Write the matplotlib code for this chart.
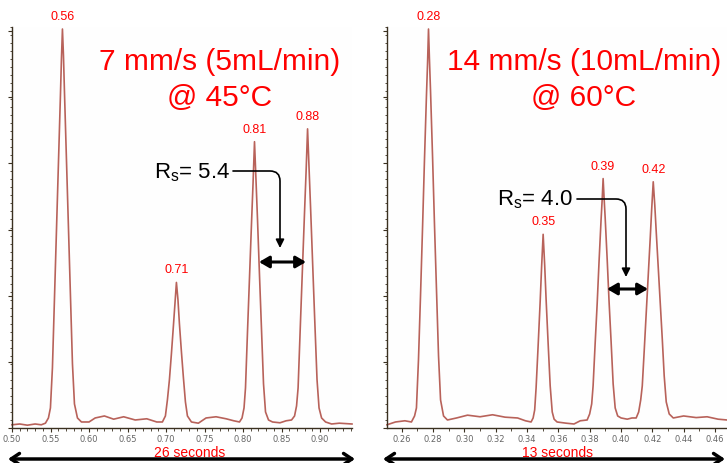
import matplotlib
matplotlib.use("Agg")
import matplotlib.pyplot as plt
from matplotlib.ticker import MultipleLocator, FormatStrFormatter, NullFormatter
from matplotlib.patches import FancyArrowPatch

plt.rcParams['font.family'] = ['Liberation Sans', 'DejaVu Sans']

# ---- data ----
left_t = [0.500, 0.510, 0.520, 0.530, 0.538,
          0.5434, 0.5473, 0.5499, 0.5525, 0.5551, 0.5577, 0.5603, 0.5629, 0.5642, 0.5655,
          0.5668, 0.5681, 0.5707, 0.5733, 0.5759, 0.5785, 0.5811, 0.5850, 0.5902,
          0.600, 0.608, 0.620, 0.632, 0.645, 0.660, 0.675, 0.688,
          0.6953, 0.6992, 0.7018, 0.7044, 0.7070, 0.7096, 0.7116, 0.7135,
          0.7155, 0.7174, 0.7200, 0.7226, 0.7252, 0.7278, 0.7330,
          0.742, 0.752, 0.765, 0.778, 0.788,
          0.7954, 0.7987, 0.8013, 0.8032, 0.8058, 0.8084, 0.8110, 0.8130, 0.8149,
          0.8168, 0.8188, 0.8214, 0.8240, 0.8266, 0.8292, 0.8331, 0.8383,
          0.848, 0.856,
          0.8630, 0.8669, 0.8695, 0.8715, 0.8747, 0.8773, 0.8799, 0.8819, 0.8838,
          0.8857, 0.8877, 0.8903, 0.8929, 0.8961, 0.8987, 0.9020, 0.9072,
          0.915, 0.925, 0.9415]
left_y = [0.8, 1.0, 0.7, 1.0, 0.8,
          1.2, 2.5, 5, 15, 32, 49, 66, 83, 92, 99.5,
          93, 84, 67, 50, 33, 16, 6, 2.5, 1.5,
          1.5, 2.5, 3.0, 2.2, 2.8, 2.0, 2.3, 1.5,
          1.5, 3, 7, 12, 18.5, 25.5, 31, 36.3,
          32, 26, 19, 12.5, 6.5, 3, 1.5,
          1.2, 2.5, 2.8, 2.3, 1.8,
          1.5, 2.5, 5, 10, 24, 37.5, 51, 61, 71.4,
          62, 52, 38, 24.5, 11, 4, 2, 1.5,
          1.3, 1.8,
          2, 3, 5.5, 10, 27, 40.5, 54, 64, 74.6,
          65, 55, 41.5, 28, 12, 5, 2.5, 1.5,
          1.0, 1.2, 1.0]

right_t = [0.2506, 0.256, 0.262,
           0.2662, 0.2682, 0.2694, 0.2707, 0.2720, 0.2733, 0.2745, 0.2758, 0.2765, 0.2771,
           0.2777, 0.2784, 0.2797, 0.2809, 0.2822, 0.2835, 0.2848, 0.2867, 0.2892,
           0.295, 0.302, 0.310, 0.318, 0.326, 0.334, 0.339,
           0.3426, 0.3439, 0.3449, 0.3458, 0.3471, 0.3484, 0.3493, 0.3503,
           0.3513, 0.3522, 0.3535, 0.3548, 0.3561, 0.3573, 0.3592,
           0.365, 0.370, 0.374,
           0.3784, 0.3800, 0.3813, 0.3822, 0.3835, 0.3848, 0.3860, 0.3873, 0.3880, 0.3886,
           0.3892, 0.3899, 0.3912, 0.3924, 0.3937, 0.3950, 0.3963, 0.3979, 0.4001,
           0.404, 0.407,
           0.4097, 0.4113, 0.4126, 0.4136, 0.4148, 0.4161, 0.4174, 0.4187, 0.4196, 0.4206,
           0.4216, 0.4225, 0.4238, 0.4251, 0.4264, 0.4276, 0.4289, 0.4308, 0.4334,
           0.440, 0.448, 0.455, 0.462, 0.4677]
right_y = [0.8, 1.5, 1.8,
           1.5, 3, 5, 17, 33, 50, 66.5, 83, 91, 99.5,
           92, 84, 67.5, 51, 34.5, 18, 7, 3, 2,
           2.5, 3.2, 2.8, 3.3, 2.7, 2.5, 1.8,
           1.5, 2.5, 4.5, 10, 20.5, 31.5, 40, 48.3,
           40.5, 32, 21, 10.5, 4, 2.2, 1.5,
           1.2, 1.0, 1.8,
           2, 3.5, 6, 10.5, 21, 31, 41.5, 52, 57, 62.2,
           57.5, 52.5, 42, 31.5, 21.5, 11, 5, 3, 2.5,
           2.2, 2.5,
           2.5, 4, 7, 10.5, 19, 28.5, 38, 47.5, 54.5, 61.4,
           55.5, 49, 40, 31, 22, 13, 6.5, 3.5, 2.5,
           3.0, 2.6, 2.8, 2.2, 2.0]

left_peak_labels = ["0.56", "0.71", "0.81", "0.88"]
left_peak_t = [0.5655, 0.7135, 0.8149, 0.8838]
left_peak_h = [99.5, 36.3, 71.4, 74.6]
right_peak_labels = ["0.28", "0.35", "0.39", "0.42"]
right_peak_t = [0.2771, 0.3503, 0.3886, 0.4206]
right_peak_h = [99.5, 48.3, 62.2, 61.4]

W, H = 727, 464
fig = plt.figure(figsize=(W / 100, H / 100), dpi=100)
fig.patch.set_facecolor('white')

trace_color = '#b8625a'
red = '#ff0000'


def px(x, y):
    return (x / W, 1 - y / H)


def setup(ax, xlim, major, minor):
    ax.set_xlim(*xlim)
    ax.set_ylim(0, 100)
    for s in ['top', 'right']:
        ax.spines[s].set_visible(False)
    for s in ['left', 'bottom']:
        ax.spines[s].set_color('#3a3020')
        ax.spines[s].set_linewidth(1.0)
    ax.xaxis.set_major_locator(MultipleLocator(major))
    ax.xaxis.set_minor_locator(MultipleLocator(minor))
    ax.xaxis.set_major_formatter(FormatStrFormatter('%.2f'))
    ax.yaxis.set_major_locator(MultipleLocator(16.5))
    ax.yaxis.set_minor_locator(MultipleLocator(2.0))
    ax.yaxis.set_major_formatter(NullFormatter())
    ax.tick_params(axis='x', which='major', length=3, width=0.8, labelsize=6, colors='#3a3020',
                   labelcolor='#666666', pad=1)
    ax.tick_params(axis='x', which='minor', length=2, width=0.6, colors='#3a3020')
    ax.tick_params(axis='y', which='major', length=3, width=0.8, colors='#3a3020')
    ax.tick_params(axis='y', which='minor', length=1.5, width=0.6, colors='#3a3020')
    ax.set_facecolor('#fefefe')


axL = fig.add_axes([12 / W, 35 / H, 340 / W, 401 / H])
axR = fig.add_axes([387 / W, 35 / H, 340 / W, 401 / H])
setup(axL, (0.50, 0.9415), 0.05, 0.01)
setup(axR, (0.2506, 0.4677), 0.02, 0.01)

axL.plot(left_t, left_y, color=trace_color, lw=1.2, clip_on=False)
axR.plot(right_t, right_y, color=trace_color, lw=1.2, clip_on=False)

for lab, t, h in zip(left_peak_labels, left_peak_t, left_peak_h):
    axL.annotate(lab, (t, h), xytext=(0, 5), textcoords='offset points', ha='center', va='bottom',
                 color=red, fontsize=9, annotation_clip=False)
for lab, t, h in zip(right_peak_labels, right_peak_t, right_peak_h):
    axR.annotate(lab, (t, h), xytext=(0, 5), textcoords='offset points', ha='center', va='bottom',
                 color=red, fontsize=9, annotation_clip=False)

# titles
fig.text(*px(220, 62), "7 mm/s (5mL/min)", color=red, fontsize=21.5, ha='center', va='center')
fig.text(*px(220, 98), "@ 45°C", color=red, fontsize=21.5, ha='center', va='center')
fig.text(*px(584, 62), "14 mm/s (10mL/min)", color=red, fontsize=21.5, ha='center', va='center')
fig.text(*px(584, 98), "@ 60°C", color=red, fontsize=21.5, ha='center', va='center')

# Rs annotations
fig.text(*px(192, 173), r"R$_\mathregular{s}$= 5.4", color='black', fontsize=16, ha='center', va='center')
fig.text(*px(535, 200), r"R$_\mathregular{s}$= 4.0", color='black', fontsize=16, ha='center', va='center')


def connector(start, end):
    a = FancyArrowPatch(px(*start), px(*end), transform=fig.transFigure,
                        connectionstyle="angle,angleA=0,angleB=90,rad=10",
                        arrowstyle="-|>,head_length=5,head_width=2.5", color='black', lw=1.2,
                        shrinkA=0, shrinkB=0)
    fig.patches.append(a)


connector((233, 172), (280, 249))
connector((577, 200), (626, 278))


def dbl(x0, x1, y, lw=2.2, hl=6, hw=3.5):
    a = FancyArrowPatch(px(x0, y), px(x1, y), transform=fig.transFigure,
                        arrowstyle=f"<|-|>,head_length={hl},head_width={hw}", color='black', lw=lw,
                        shrinkA=0, shrinkB=0)
    fig.patches.append(a)


dbl(259, 306, 263)
dbl(607, 648, 290)


def bigarrow(x0, x1, y):
    a = FancyArrowPatch(px(x0, y), px(x1, y), transform=fig.transFigure,
                        arrowstyle="<->,head_length=6,head_width=4", color='black', lw=2.5,
                        shrinkA=0, shrinkB=0)
    fig.patches.append(a)


bigarrow(8, 355, 460)
bigarrow(383, 725, 460)
fig.text(*px(190, 453), "26 seconds", color=red, fontsize=10, ha='center', va='center')
fig.text(*px(557, 453), "13 seconds", color=red, fontsize=10, ha='center', va='center')

# narrow tick-label font, applied after ticks exist
fig.canvas.draw()
for ax in (axL, axR):
    for lab in ax.get_xticklabels():
        lab.set_fontfamily(['Liberation Sans Narrow', 'DejaVu Sans'])

fig.savefig("out.png", dpi=100)
